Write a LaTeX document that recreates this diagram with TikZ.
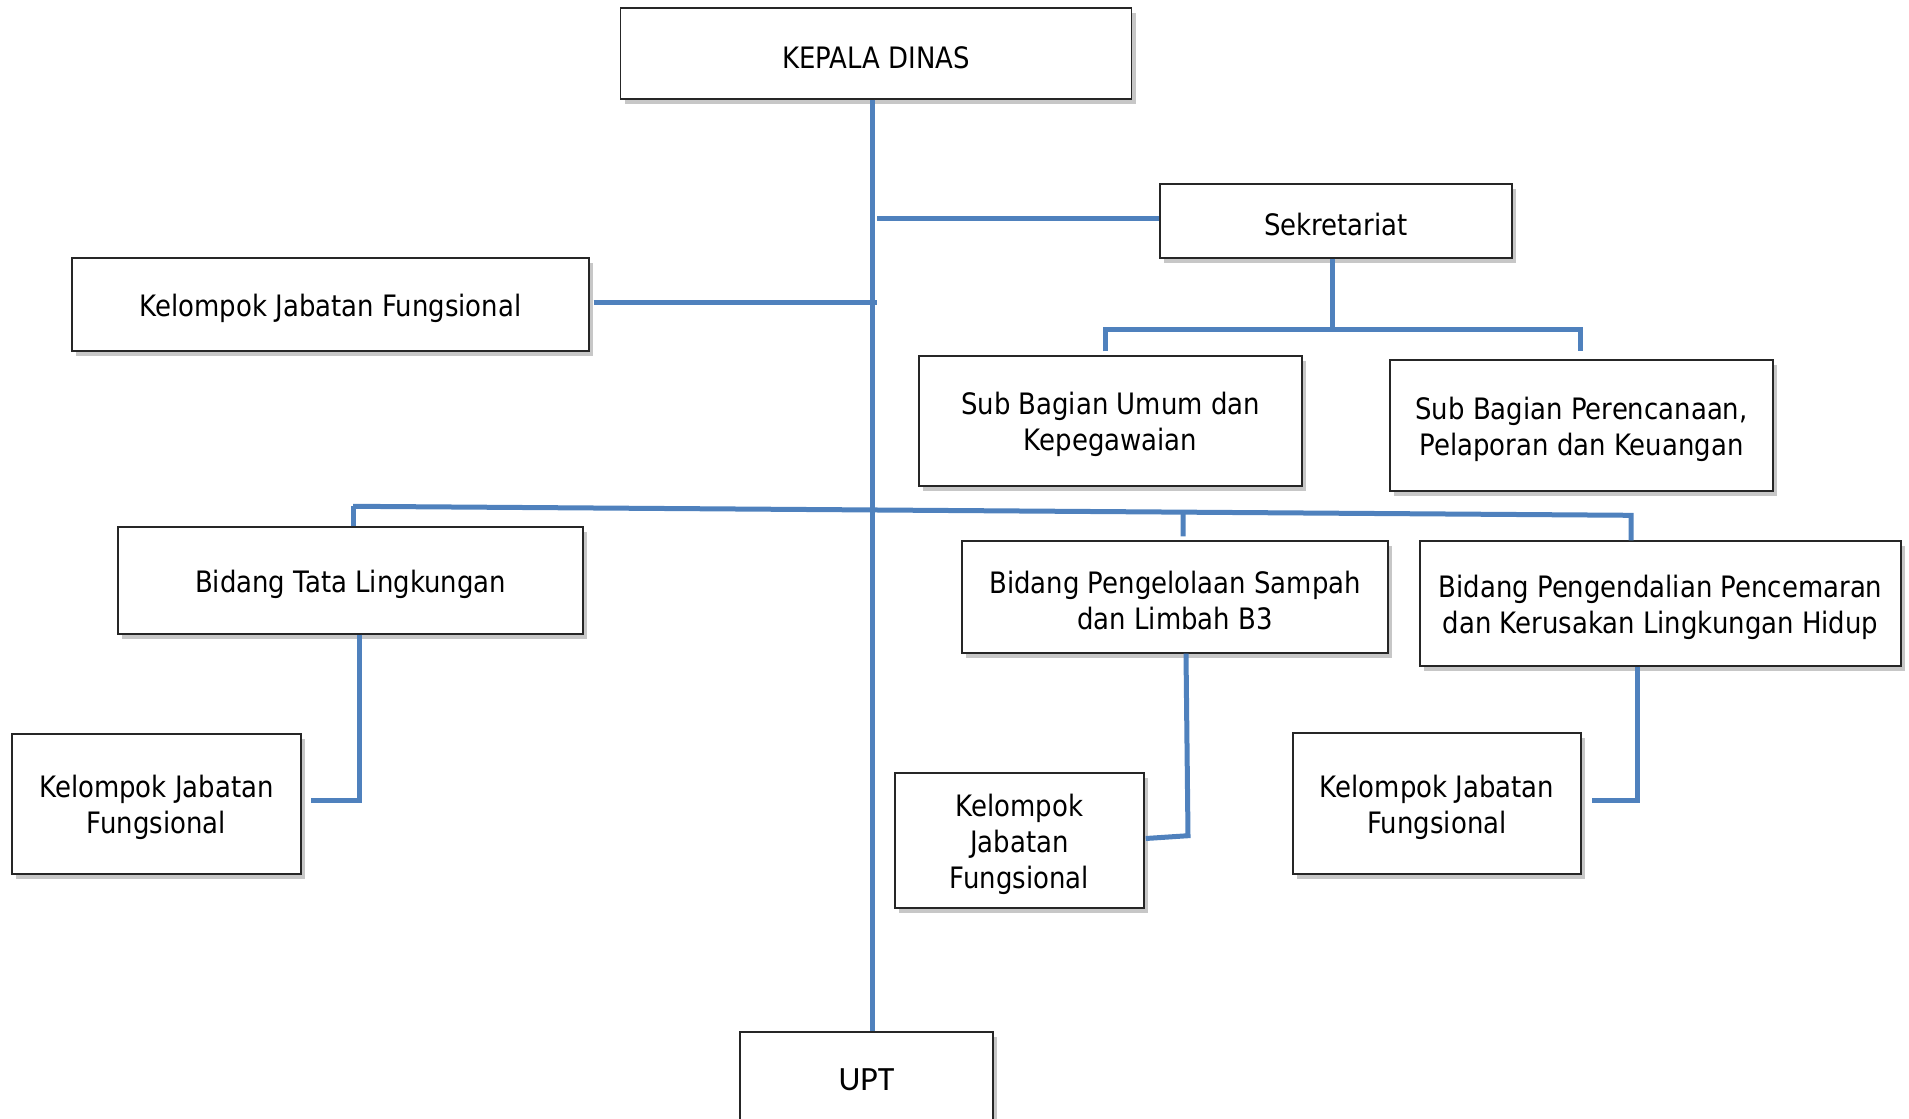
\documentclass[tikz,border=0pt]{standalone}
\usepackage{fontspec}
\setmainfont{DejaVu Sans}[FakeStretch=0.88]
\newfontfamily\uptfont{Carlito}
\usetikzlibrary{shadows,calc}
\definecolor{linkblue}{HTML}{4F81BD}
\newcommand{\tpad}{\rule{0pt}{29.5pt}}
\tikzset{
  orgbox/.style={draw=black!85, line width=1.4pt, fill=white, inner sep=0pt, align=center,
    font=\fontsize{29.5}{36}\selectfont,
    drop shadow={shadow xshift=4pt, shadow yshift=-5pt, fill=black, opacity=0.22}},
  conn/.style={draw=linkblue, line width=5pt}
}
\begin{document}
\begin{tikzpicture}[x=1pt,y=-1pt]
\useasboundingbox (0,0) rectangle (1909,1119);
% nodes
\node[orgbox, minimum width=511pt, minimum height=91pt] (kd) at (876,53.5) {\tpad KEPALA DINAS};
\node[orgbox, minimum width=352pt, minimum height=74pt] (sek) at (1336,221) {\tpad Sekretariat};
\node[orgbox, minimum width=517pt, minimum height=93pt] (kjf0) at (330.5,304.5) {\tpad Kelompok Jabatan Fungsional};
\node[orgbox, minimum width=383pt, minimum height=130pt] (sbu) at (1110.5,421) {\tpad Sub Bagian Umum dan\\Kepegawaian};
\node[orgbox, minimum width=383pt, minimum height=131pt] (sbp) at (1581.5,425.5) {\tpad Sub Bagian Perencanaan,\\Pelaporan dan Keuangan};
\node[orgbox, minimum width=465pt, minimum height=107pt] (btl) at (350.5,580.5) {\tpad Bidang Tata Lingkungan};
\node[orgbox, minimum width=426pt, minimum height=112pt] (bps) at (1175,597) {\tpad Bidang Pengelolaan Sampah\\dan Limbah B3};
\node[orgbox, minimum width=481pt, minimum height=125pt] (bpc) at (1660.5,603.5) {\tpad Bidang Pengendalian Pencemaran\\dan Kerusakan Lingkungan Hidup};
\node[orgbox, minimum width=289pt, minimum height=140pt] (kjf1) at (156.5,804) {\tpad Kelompok Jabatan\\Fungsional};
\node[orgbox, minimum width=249pt, minimum height=135pt] (kjf2) at (1019.5,840.5) {\tpad Kelompok\\Jabatan\\Fungsional};
\node[orgbox, minimum width=288pt, minimum height=141pt] (kjf3) at (1437,803.5) {\tpad Kelompok Jabatan\\Fungsional};
\node[orgbox, minimum width=253pt, minimum height=96pt, font=\uptfont\fontsize{34}{40}\selectfont] (upt) at (866.5,1080) {UPT};
% trunk
\draw[conn] ([xshift=-4pt]kd.south) -- ([xshift=-4pt]kd.south |- upt.north);
% sekretariat
\draw[conn] ([yshift=3pt]sek.west) -- ([yshift=3pt,xshift=1pt]sek.west -| kd.south);
\draw[conn] ([xshift=-4pt]sek.south) -- ++(0,71) coordinate (sj);
\draw[conn] ([xshift=-5pt,yshift=4pt]sbu.north) |- (sj) -| ([xshift=-1pt,yshift=8pt]sbp.north);
% kelompok top
\draw[conn] ([xshift=4pt,yshift=2.5pt]kjf0.east) -- ([yshift=2.5pt,xshift=1pt]kjf0.east -| kd.south);
% bidang level
\draw[conn] ([xshift=2.5pt]btl.north) -- ++(0,-20) coordinate (hl);
\coordinate (hr) at ($(bpc.north)+(-29.5,-25)$);
\draw[conn] (hl) -- (hr) -- ([xshift=-29.5pt]bpc.north);
\draw[conn] ($(hl)!0.6495!(hr)$) -- ([xshift=8pt,yshift=4pt]bps.north);
% lower kelompok
\draw[conn] ([xshift=8.5pt]btl.south) |- ([xshift=9pt,yshift=4pt]kjf1.east);
\draw[conn] ([xshift=11pt]bps.south) -- ++(2,182) -- ([xshift=1pt,yshift=2pt]kjf2.east);
\draw[conn] ([xshift=-23.5pt]bpc.south) |- ([xshift=10pt,yshift=3.5pt]kjf3.east);
\end{tikzpicture}
\end{document}
